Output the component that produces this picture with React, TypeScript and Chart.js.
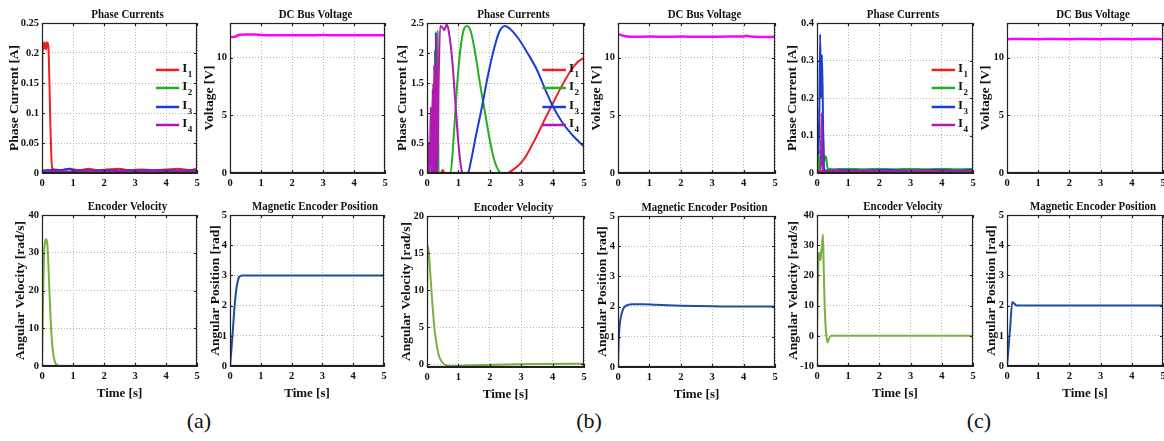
import React, { useEffect, useRef } from "react";
import { Chart, registerables } from "chart.js";
Chart.register(...registerables);

type P = [number, number];

// ---------- tick values ----------
const timeTicks = [0, 1, 2, 3, 4, 5];
const aCurrentTicks = [0, 0.05, 0.1, 0.15, 0.2, 0.25];
const bCurrentTicks = [0, 0.5, 1, 1.5, 2, 2.5];
const cCurrentTicks = [0, 0.1, 0.2, 0.3, 0.4];
const voltageTicks = [0, 5, 10];
const aVelocityTicks = [0, 10, 20, 30, 40];
const bVelocityTicks = [0, 5, 10, 15, 20];
const cVelocityTicks = [-10, 0, 10, 20, 30, 40];
const positionTicks = [0, 1, 2, 3, 4, 5];

// ---------- (a) ----------
const aI1: P[] = [[0, 0], [0.01, 0.205], [0.03, 0.216], [0.05, 0.206], [0.07, 0.218], [0.09, 0.208], [0.11, 0.216], [0.13, 0.206], [0.15, 0.218], [0.17, 0.209], [0.19, 0.217], [0.21, 0.207], [0.24, 0.15], [0.27, 0.08], [0.3, 0.03], [0.33, 0.008], [0.4, 0.006], [0.6, 0.005], [0.9, 0.007], [1.2, 0.005], [1.5, 0.007], [1.8, 0.005], [2.1, 0.006], [2.5, 0.007], [2.8, 0.005], [3.2, 0.006], [3.6, 0.005], [4.0, 0.006], [4.4, 0.007], [4.8, 0.005], [5, 0.007]];
const aI2: P[] = [[0, 0.001], [0.5, 0.002], [1, 0.001], [1.5, 0.002], [2, 0.001], [2.5, 0.002], [3, 0.001], [3.5, 0.002], [4, 0.001], [4.5, 0.002], [5, 0.001]];
const aI3: P[] = [[0, 0.004], [0.3, 0.005], [0.6, 0.005], [0.9, 0.007], [1.0, 0.004], [1.5, 0.004], [2, 0.004], [2.5, 0.004], [3, 0.004], [3.5, 0.004], [4, 0.004], [4.5, 0.004], [5, 0.004]];
const aI4: P[] = [[0, 0.002], [0.25, 0.003], [0.5, 0.002], [0.75, 0.003], [1, 0.002], [1.5, 0.003], [2, 0.002], [2.5, 0.003], [3, 0.002], [3.5, 0.003], [4, 0.002], [4.5, 0.003], [5, 0.002]];
const aVoltage: P[] = [[0, 11.8], [0.1, 11.78], [0.2, 11.85], [0.3, 11.98], [0.5, 12.0], [0.8, 12.0], [1.0, 11.95], [1.5, 11.93], [2, 11.94], [2.5, 11.93], [3, 11.95], [3.5, 11.94], [4, 11.94], [4.5, 11.93], [5, 11.94]];
const aVelocity: P[] = [[0, 0], [0.03, 15], [0.06, 28], [0.1, 33], [0.13, 33.6], [0.17, 32.5], [0.22, 24], [0.28, 12], [0.35, 4], [0.42, 1], [0.5, 0.2], [0.6, 0], [5, 0]];
const aPosition: P[] = [[0, 0], [0.05, 0.6], [0.1, 1.3], [0.15, 2.0], [0.2, 2.5], [0.25, 2.8], [0.3, 2.95], [0.4, 3.0], [5, 3.0]];

// ---------- (b) ----------
const bI1: P[] = [[0, 0], [0.15, 0], [0.2, 1.5], [0.22, 0], [0.45, 0], [0.5, 0.05], [0.55, 0], [2.55, 0], [2.7, 0.04], [2.9, 0.12], [3.1, 0.24], [3.3, 0.42], [3.5, 0.62], [3.7, 0.84], [4.0, 1.15], [4.2, 1.36], [4.4, 1.55], [4.6, 1.72], [4.8, 1.85], [5, 1.92]];
const bI2: P[] = [[0, 1.55], [0.01, 0], [0.22, 0], [0.25, 2.05], [0.27, 0], [0.31, 0], [0.34, 2.38], [0.37, 0], [0.75, 0], [0.85, 0.6], [0.95, 1.4], [1.05, 2.0], [1.15, 2.35], [1.27, 2.45], [1.4, 2.35], [1.55, 1.95], [1.7, 1.45], [1.85, 1.0], [2.0, 0.55], [2.15, 0.2], [2.3, 0.02], [2.35, 0], [5, 0]];
const bI3: P[] = [[0, 0], [0.25, 0], [0.28, 2.35], [0.31, 0], [1.3, 0], [1.4, 0.2], [1.55, 0.6], [1.75, 1.1], [1.95, 1.65], [2.15, 2.1], [2.3, 2.35], [2.48, 2.45], [2.65, 2.4], [2.9, 2.25], [3.2, 2.0], [3.5, 1.72], [3.8, 1.35], [4.0, 1.12], [4.3, 0.85], [4.6, 0.65], [5, 0.44]];
const bI4: P[] = [[0, 0.8], [0.03, 0], [0.06, 0.5], [0.09, 0], [0.12, 1.1], [0.15, 0], [0.18, 1.4], [0.2, 0], [0.23, 1.8], [0.26, 0], [0.3, 2.3], [0.33, 0], [0.37, 1.5], [0.42, 2.45], [0.5, 2.42], [0.55, 2.38], [0.62, 2.47], [0.68, 2.4], [0.8, 1.9], [0.9, 1.2], [1.0, 0.5], [1.1, 0.05], [1.15, 0], [5, 0]];
const bVoltage: P[] = [[0, 12.05], [0.1, 11.95], [0.3, 11.82], [0.6, 11.8], [1, 11.82], [1.5, 11.8], [2, 11.82], [2.5, 11.8], [3, 11.81], [3.5, 11.82], [4, 11.83], [4.1, 11.9], [4.2, 11.82], [4.5, 11.79], [5, 11.8]];
const bVelocity: P[] = [[0, 0], [0.01, 15], [0.03, 16], [0.07, 14.5], [0.1, 12.5], [0.15, 9.5], [0.2, 6.6], [0.25, 4.4], [0.31, 2.6], [0.36, 1.5], [0.41, 0.8], [0.5, 0.2], [0.6, -0.1], [0.8, -0.2], [1.5, -0.1], [2.5, 0], [3.5, 0.05], [5, 0.1]];
const bPosition: P[] = [[0, 0], [0.02, 0.8], [0.05, 1.35], [0.1, 1.7], [0.15, 1.88], [0.2, 1.98], [0.3, 2.05], [0.45, 2.08], [0.8, 2.08], [1.2, 2.06], [2, 2.03], [3, 2.01], [4, 2.0], [5, 2.0]];

// ---------- (c) ----------
const cI1: P[] = [[0, 0], [0.02, 0.17], [0.04, 0.01], [0.1, 0.005], [0.3, 0.006], [0.6, 0.005], [1, 0.006], [1.5, 0.005], [2, 0.006], [2.5, 0.005], [3, 0.006], [3.5, 0.005], [4, 0.006], [4.5, 0.005], [5, 0.006]];
const cI2: P[] = [[0, 0.175], [0.02, 0.1], [0.05, 0.005], [0.12, 0.06], [0.17, 0.1], [0.2, 0.09], [0.23, 0.03], [0.27, 0.045], [0.3, 0.04], [0.34, 0.012], [0.5, 0.01], [1, 0.011], [1.5, 0.01], [2, 0.011], [2.5, 0.01], [3, 0.011], [3.5, 0.01], [4, 0.011], [4.5, 0.01], [5, 0.011]];
const cI3: P[] = [[0, 0], [0.03, 0.13], [0.06, 0.05], [0.1, 0.37], [0.13, 0.2], [0.16, 0.315], [0.2, 0.1], [0.23, 0.01], [0.3, 0.007], [0.8, 0.008], [1.5, 0.007], [2.2, 0.008], [3, 0.007], [3.8, 0.008], [4.5, 0.007], [5, 0.008]];
const cI4: P[] = [[0, 0.005], [0.12, 0.005], [0.15, 0.16], [0.18, 0.005], [0.5, 0.005], [0.7, 0.01], [0.75, 0.005], [1.5, 0.006], [2.5, 0.005], [3.5, 0.006], [4.5, 0.005], [5, 0.006]];
const cVoltage: P[] = [[0, 11.6], [0.5, 11.62], [1, 11.6], [1.5, 11.61], [2, 11.6], [2.5, 11.62], [3, 11.6], [3.5, 11.61], [4, 11.6], [4.5, 11.61], [5, 11.6]];
const cVelocity: P[] = [[0, 0], [0.02, 12], [0.05, 26], [0.08, 27.5], [0.11, 25], [0.14, 28], [0.17, 31], [0.19, 33.5], [0.21, 25], [0.24, 12], [0.27, 4], [0.3, 0], [0.34, -2.2], [0.38, -1], [0.45, 0], [5, 0]];
const cPosition: P[] = [[0, 0], [0.05, 0.6], [0.1, 1.25], [0.17, 2.12], [0.2, 2.1], [0.25, 2.05], [0.3, 2.0], [5, 2.0]];

// ---------- styles ----------
const RED = "#ee2020";
const GREEN = "#22b022";
const BLUE = "#1a3fd0";
const PURPLE = "#b01ab0";
const MAGENTA = "#ff00ff";
const VEL_GREEN = "#78b13f";
const POS_BLUE = "#1c4f9f";
const FONT = "'Liberation Serif', 'Times New Roman', serif";

interface Series { data: P[]; color: string; width: number; order: number; }
interface Panel {
  l: number; t: number; w: number; h: number; L: number;
  title: string; yTitle: string; yMin: number; yMax: number; yTicks: number[];
  series: Series[]; legend: boolean; bottomRow: boolean;
}

const currents = (i1: P[], i2: P[], i3: P[], i4: P[], wFlat: number): Series[] => [
  { data: i1, color: RED, width: wFlat, order: 4 },
  { data: i2, color: GREEN, width: wFlat, order: 3 },
  { data: i3, color: BLUE, width: wFlat, order: 2 },
  { data: i4, color: PURPLE, width: wFlat, order: 1 },
];

const panels: Panel[] = [
  { l: 42, t: 23, w: 155, h: 150, L: 34, title: "Phase Currents", yTitle: "Phase Current [A]", yMin: 0, yMax: 0.25, yTicks: aCurrentTicks, series: currents(aI1, aI2, aI3, aI4, 2), legend: true, bottomRow: false },
  { l: 230, t: 23, w: 155, h: 150, L: 27, title: "DC Bus Voltage", yTitle: "Voltage [V]", yMin: 0, yMax: 13, yTicks: voltageTicks, series: [{ data: aVoltage, color: MAGENTA, width: 2.5, order: 1 }], legend: false, bottomRow: false },
  { l: 42, t: 215, w: 155, h: 151, L: 28, title: "Encoder Velocity", yTitle: "Angular Velocity [rad/s]", yMin: 0, yMax: 40, yTicks: aVelocityTicks, series: [{ data: aVelocity, color: VEL_GREEN, width: 2, order: 1 }], legend: false, bottomRow: true },
  { l: 230, t: 215, w: 154, h: 151, L: 21, title: "Magnetic Encoder Position", yTitle: "Angular Position [rad]", yMin: 0, yMax: 5, yTicks: positionTicks, series: [{ data: aPosition, color: POS_BLUE, width: 2, order: 1 }], legend: false, bottomRow: true },

  { l: 427, t: 23, w: 157, h: 150, L: 31, title: "Phase Currents", yTitle: "Phase Current [A]", yMin: 0, yMax: 2.5, yTicks: bCurrentTicks, series: currents(bI1, bI2, bI3, bI4, 2), legend: true, bottomRow: false },
  { l: 618, t: 23, w: 157, h: 150, L: 28, title: "DC Bus Voltage", yTitle: "Voltage [V]", yMin: 0, yMax: 13, yTicks: voltageTicks, series: [{ data: bVoltage, color: MAGENTA, width: 2.5, order: 1 }], legend: false, bottomRow: false },
  { l: 427, t: 216, w: 157, h: 151, L: 27, title: "Encoder Velocity", yTitle: "Angular Velocity [rad/s]", yMin: -0.35, yMax: 20, yTicks: bVelocityTicks, series: [{ data: bVelocity, color: VEL_GREEN, width: 2, order: 1 }], legend: false, bottomRow: true },
  { l: 618, t: 216, w: 157, h: 151, L: 22, title: "Magnetic Encoder Position", yTitle: "Angular Position [rad]", yMin: 0, yMax: 5, yTicks: positionTicks, series: [{ data: bPosition, color: POS_BLUE, width: 2, order: 1 }], legend: false, bottomRow: true },

  { l: 817, t: 23, w: 156, h: 150, L: 31, title: "Phase Currents", yTitle: "Phase Current [A]", yMin: 0, yMax: 0.4, yTicks: cCurrentTicks, series: currents(cI1, cI2, cI3, cI4, 2), legend: true, bottomRow: false },
  { l: 1007, t: 23, w: 156, h: 150, L: 28, title: "DC Bus Voltage", yTitle: "Voltage [V]", yMin: 0, yMax: 13, yTicks: voltageTicks, series: [{ data: cVoltage, color: MAGENTA, width: 2.5, order: 1 }], legend: false, bottomRow: false },
  { l: 817, t: 215, w: 156, h: 151, L: 30, title: "Encoder Velocity", yTitle: "Angular Velocity [rad/s]", yMin: -10, yMax: 40, yTicks: cVelocityTicks, series: [{ data: cVelocity, color: VEL_GREEN, width: 2, order: 1 }], legend: false, bottomRow: true },
  { l: 1007, t: 215, w: 156, h: 151, L: 22, title: "Magnetic Encoder Position", yTitle: "Angular Position [rad]", yMin: 0, yMax: 5, yTicks: positionTicks, series: [{ data: cPosition, color: POS_BLUE, width: 2, order: 1 }], legend: false, bottomRow: true },
];

const captions = [
  { text: "(a)", x: 199 },
  { text: "(b)", x: 589 },
  { text: "(c)", x: 979 },
];

const legendNames = ["1", "2", "3", "4"];
const legendColors = [RED, GREEN, BLUE, PURPLE];
const legendY = [0.313, 0.433, 0.56, 0.68];

const R = 8;
const T = 15;
const SQUEEZE = 0.84;
function geom(p: Panel) {
  const B = p.bottomRow ? 35 : 18;
  return { W: p.L + p.w + R, H: T + p.h + B, x: p.l - p.L, y: p.t - T, B };
}

function makeChart(canvas: HTMLCanvasElement, p: Panel) {
  const g = geom(p);
  const framePlugin = {
    id: "frame",
    afterDraw(chart: any) {
      const { ctx, chartArea } = chart;
      const { left, top, right, bottom } = chartArea;
      const xs = chart.scales.x;
      const ys = chart.scales.y;
      ctx.save();
      ctx.strokeStyle = "#222";
      ctx.lineWidth = 1.2;
      ctx.beginPath();
      for (const t of xs.ticks) {
        const px = Math.round(xs.getPixelForValue(t.value)) + 0.5;
        ctx.moveTo(px, bottom); ctx.lineTo(px, bottom - 3);
        ctx.moveTo(px, top); ctx.lineTo(px, top + 3);
      }
      for (const t of ys.ticks) {
        const py = Math.round(ys.getPixelForValue(t.value)) + 0.5;
        ctx.moveTo(left, py); ctx.lineTo(left + 3, py);
        ctx.moveTo(right, py); ctx.lineTo(right - 3, py);
      }
      ctx.stroke();
      ctx.strokeRect(Math.round(left) + 0.5, Math.round(top) + 0.5, Math.round(right - left) - 1, Math.round(bottom - top) - 1);
      // title (horizontally condensed like the reference)
      ctx.fillStyle = "#111";
      ctx.font = `bold 13px ${FONT}`;
      ctx.textAlign = "center";
      ctx.textBaseline = "middle";
      const cx = (left + right) / 2 + 8;
      ctx.save();
      ctx.translate(cx, top - 8);
      ctx.scale(SQUEEZE, 1);
      ctx.fillText(p.title, 0, 0);
      ctx.restore();
      // legend
      if (p.legend) {
        const w = right - left;
        const h = bottom - top;
        const x1 = left + w * 0.735;
        const x2 = left + w * 0.885;
        legendNames.forEach((n, i) => {
          const y = top + h * legendY[i];
          ctx.strokeStyle = legendColors[i];
          ctx.lineWidth = 2.5;
          ctx.beginPath();
          ctx.moveTo(x1, y); ctx.lineTo(x2, y);
          ctx.stroke();
          ctx.fillStyle = "#111";
          ctx.textAlign = "left";
          ctx.textBaseline = "middle";
          ctx.font = `bold 13px ${FONT}`;
          ctx.fillText("I", x2 + 3, y - 1);
          const iw = ctx.measureText("I").width;
          ctx.font = `bold 9px ${FONT}`;
          ctx.fillText(n, x2 + 3 + iw + 0.5, y + 5);
        });
      }
      ctx.restore();
    },
  };

  const tickFont = { family: FONT, weight: "bold" as const, size: 10.5 };
  return new Chart(canvas, {
    type: "line",
    data: {
      datasets: p.series.map((s) => ({
        data: s.data.map(([x, y]) => ({ x, y })),
        borderColor: s.color,
        backgroundColor: s.color,
        borderWidth: s.width,
        pointRadius: 0,
        fill: false,
        cubicInterpolationMode: "monotone",
        order: s.order,
      })),
    },
    options: {
      responsive: false,
      animation: false,
      devicePixelRatio: 1,
      layout: { padding: { left: 0, top: T, right: R, bottom: 0 } },
      plugins: { legend: { display: false }, tooltip: { enabled: false }, title: { display: false } },
      scales: {
        x: {
          type: "linear",
          min: 0,
          max: 5,
          afterBuildTicks: (s: any) => { s.ticks = timeTicks.map((v) => ({ value: v })); },
          afterFit: (s: any) => { s.height = g.B; s.paddingLeft = 0; s.paddingRight = 0; },
          grid: { color: "#b5b5b5", lineWidth: 1, drawTicks: false },
          border: { display: true, color: "#222", dash: [1, 2] },
          ticks: { font: tickFont, color: "#111", padding: 4, maxRotation: 0, autoSkip: false, callback: (v: any) => String(v) },
          title: p.bottomRow
            ? { display: true, text: "Time [s]", color: "#111", font: { family: FONT, weight: "bold", size: 13, lineHeight: "14px" }, padding: { top: 0, bottom: 0 } }
            : { display: false },
        },
        y: {
          type: "linear",
          min: p.yMin,
          max: p.yMax,
          afterBuildTicks: (s: any) => { s.ticks = p.yTicks.map((v) => ({ value: v })); },
          afterFit: (s: any) => { s.width = p.L; s.paddingTop = 0; s.paddingBottom = 0; },
          grid: { color: "#b5b5b5", lineWidth: 1, drawTicks: false },
          border: { display: true, color: "#222", dash: [1, 2] },
          ticks: { font: tickFont, color: "#111", padding: 3, autoSkip: false, callback: (v: any) => String(v) },
          title: { display: true, text: p.yTitle, color: "#111", font: { family: FONT, weight: "bold", size: 13.5, lineHeight: "14px" }, padding: { top: 0, bottom: 0 } },
        },
      },
    } as any,
    plugins: [framePlugin],
  });
}

export default function App() {
  const refs = useRef<(HTMLCanvasElement | null)[]>([]);
  useEffect(() => {
    const charts = panels.map((p, i) => makeChart(refs.current[i] as HTMLCanvasElement, p));
    return () => charts.forEach((c) => c.destroy());
  }, []);
  return (
    <div style={{ position: "absolute", left: 0, top: 0, width: 1164, height: 441, overflow: "hidden", background: "#fff" }}>
      {panels.map((p, i) => {
        const g = geom(p);
        return (
          <canvas
            key={i}
            ref={(el) => { refs.current[i] = el; }}
            width={g.W}
            height={g.H}
            style={{ position: "absolute", left: g.x, top: g.y, width: g.W, height: g.H }}
          />
        );
      })}
      {captions.map((c) => (
        <div
          key={c.text}
          style={{ position: "absolute", left: c.x - 30, width: 60, top: 409, height: 24, lineHeight: "24px", textAlign: "center", fontFamily: FONT, fontSize: 22, color: "#111" }}
        >
          {c.text}
        </div>
      ))}
    </div>
  );
}
